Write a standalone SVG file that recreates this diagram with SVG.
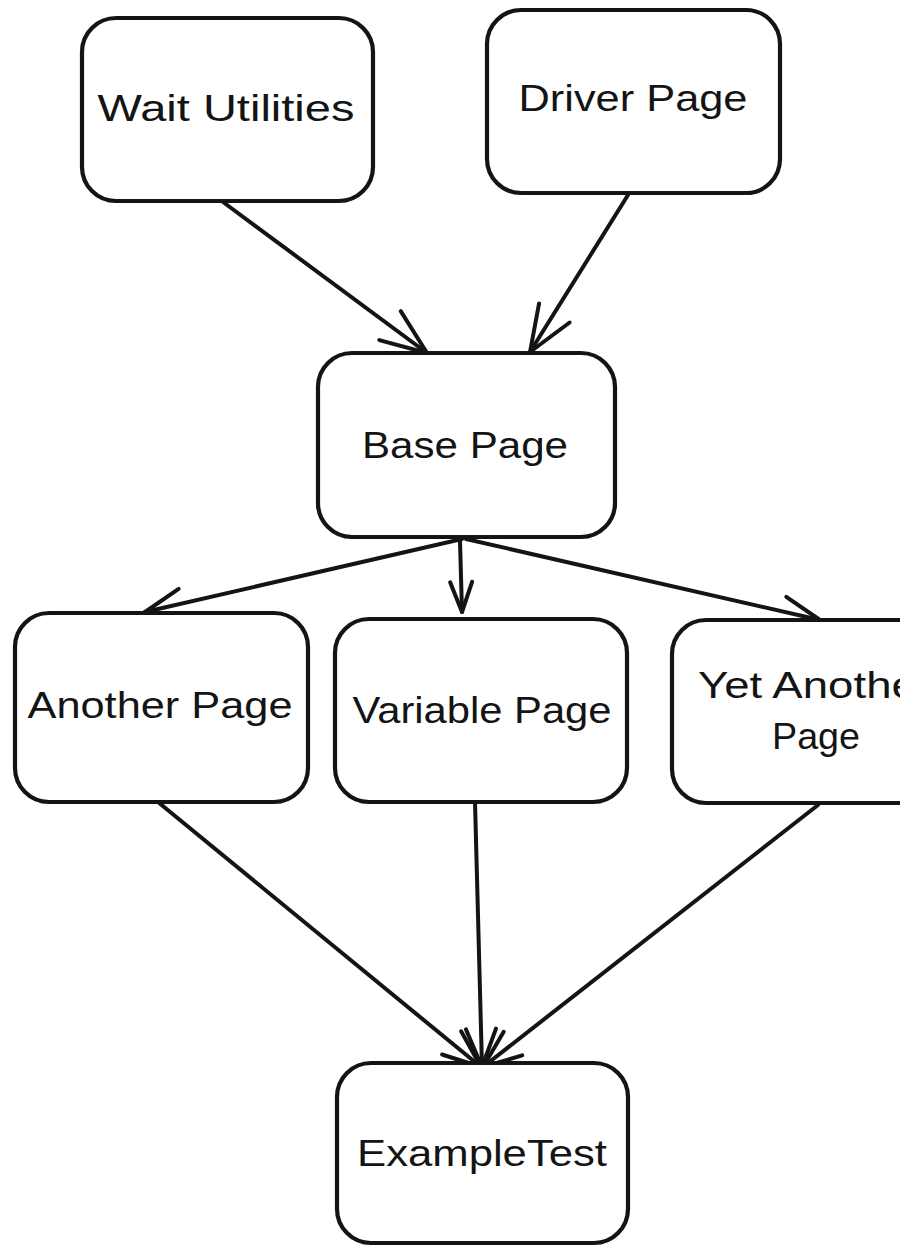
<svg xmlns="http://www.w3.org/2000/svg" width="900" height="1247" viewBox="0 0 900 1247">
  <style>
    .box { fill: #ffffff; stroke: #141414; stroke-width: 4.2; stroke-linejoin: round; }
    .label { font-family: "Liberation Sans", "DejaVu Sans", sans-serif; font-size: 37px; fill: #141414; }
    .edge { fill: none; stroke: #141414; stroke-width: 4; stroke-linecap: round; }
    .head { fill: none; stroke: #141414; stroke-width: 4; stroke-linecap: round; stroke-linejoin: round; }
  </style>
  <defs>
    <marker id="arrow-lg" markerUnits="userSpaceOnUse" orient="auto" viewBox="-55 -25 60 50" markerWidth="60" markerHeight="50" refX="0" refY="0">
      <path class="head" d="M-46,-18 L0,0 L-46,18"/>
    </marker>
    <marker id="arrow-md" markerUnits="userSpaceOnUse" orient="auto" viewBox="-45 -20 50 40" markerWidth="50" markerHeight="40" refX="0" refY="0">
      <path class="head" d="M-38,-15 L0,0 L-38,15"/>
    </marker>
    <marker id="arrow-sm" markerUnits="userSpaceOnUse" orient="auto" viewBox="-40 -16 44 32" markerWidth="44" markerHeight="32" refX="0" refY="0">
      <path class="head" d="M-30,-11 L0,0 L-30,11"/>
    </marker>
  </defs>

  <rect width="900" height="1247" fill="#ffffff"/>

  <g id="connectors">
    <path class="edge" d="M223,202 L427,353" marker-end="url(#arrow-lg)"/>
    <path class="edge" d="M628,195 L530,352" marker-end="url(#arrow-lg)"/>
    <path class="edge" d="M462,539 L145,612" marker-end="url(#arrow-md)"/>
    <path class="edge" d="M460,541 L462,612" marker-end="url(#arrow-sm)"/>
    <path class="edge" d="M466,539 L820,620" marker-end="url(#arrow-md)"/>
    <path class="edge" d="M158,802 L481,1067" marker-end="url(#arrow-md)"/>
    <path class="edge" d="M475,802 L482,1067" marker-end="url(#arrow-md)"/>
    <path class="edge" d="M818,805 L483,1067" marker-end="url(#arrow-md)"/>
  </g>

  <g id="wait-utilities">
    <rect class="box" x="82" y="18" width="291" height="183" rx="34"/>
    <text class="label" x="226" y="121" text-anchor="middle" textLength="257" lengthAdjust="spacingAndGlyphs">Wait Utilities</text>
  </g>

  <g id="driver-page">
    <rect class="box" x="487" y="10" width="293" height="183" rx="34"/>
    <text class="label" x="633" y="111" text-anchor="middle" textLength="229" lengthAdjust="spacingAndGlyphs">Driver Page</text>
  </g>

  <g id="base-page">
    <rect class="box" x="318" y="353" width="297" height="184" rx="34"/>
    <text class="label" x="465" y="458" text-anchor="middle" textLength="206" lengthAdjust="spacingAndGlyphs">Base Page</text>
  </g>

  <g id="another-page">
    <rect class="box" x="15" y="613" width="293" height="189" rx="34"/>
    <text class="label" x="160" y="718" text-anchor="middle" textLength="265" lengthAdjust="spacingAndGlyphs">Another Page</text>
  </g>

  <g id="variable-page">
    <rect class="box" x="335" y="619" width="292" height="183" rx="34"/>
    <text class="label" x="482" y="723" text-anchor="middle" textLength="259" lengthAdjust="spacingAndGlyphs">Variable Page</text>
  </g>

  <g id="yet-another-page">
    <rect class="box" x="672" y="620" width="300" height="183" rx="34"/>
    <text class="label" x="698" y="698" textLength="234" lengthAdjust="spacingAndGlyphs">Yet Another</text>
    <text class="label" x="816" y="749" text-anchor="middle" textLength="88" lengthAdjust="spacingAndGlyphs">Page</text>
  </g>

  <g id="example-test">
    <rect class="box" x="337" y="1063" width="291" height="180" rx="34"/>
    <text class="label" x="482" y="1166" text-anchor="middle" textLength="250" lengthAdjust="spacingAndGlyphs">ExampleTest</text>
  </g>
</svg>
